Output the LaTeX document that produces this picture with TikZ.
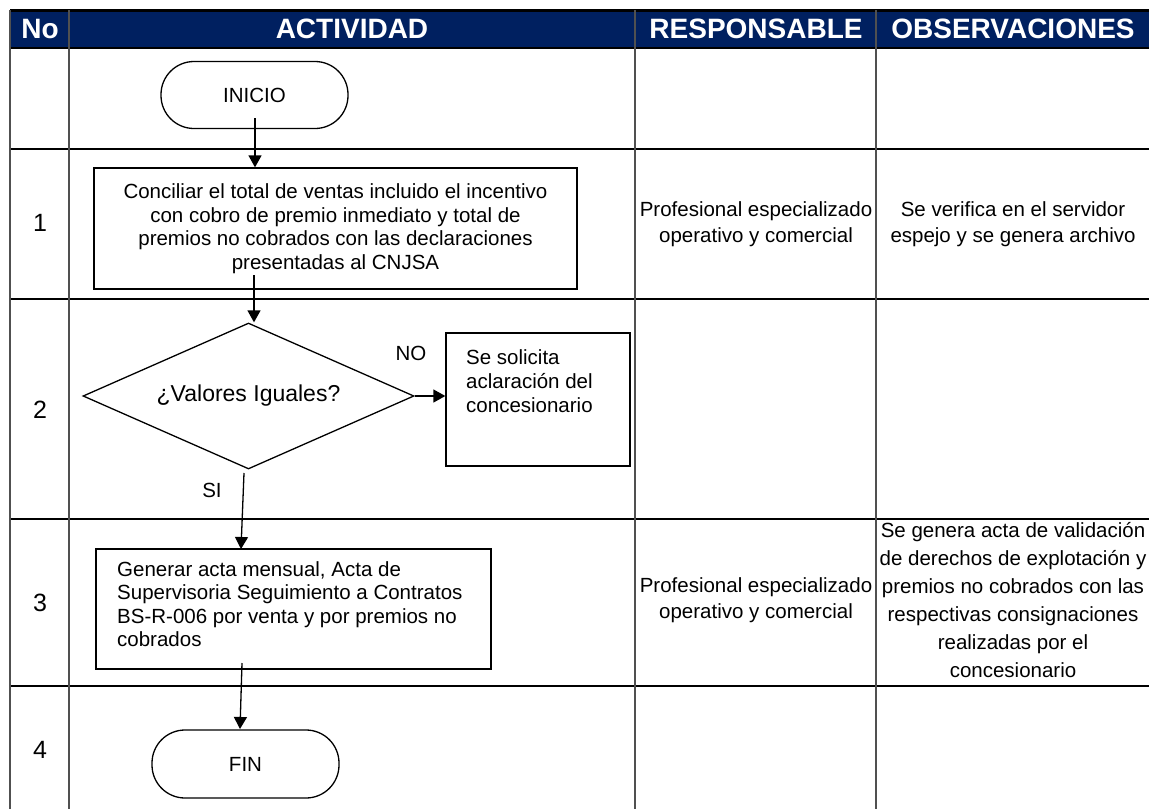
\documentclass[tikz,border=0pt]{standalone}
\usepackage{fontspec}
\setmainfont{Liberation Sans}
\usetikzlibrary{shapes.geometric,arrows.meta,calc}
\definecolor{navy}{HTML}{002060}
\definecolor{gridgray}{HTML}{505050}
\begin{document}
\begin{tikzpicture}[x=1pt,y=-1pt,
  hdr/.style={text=white,font=\fontsize{28}{32}\selectfont\bfseries},
  num/.style={font=\fontsize{25}{28}\selectfont},
  cell/.style={font=\fontsize{20.5}{26}\selectfont,align=center,inner sep=0pt},
  term/.style={draw,line width=1.3pt,rounded corners=33pt,minimum width=187pt,minimum height=67pt,font=\fontsize{20.5}{24}\selectfont},
  proc/.style={draw,line width=1.3pt,inner sep=0pt},
  boxtext/.style={font=\fontsize{20.5}{23.5}\selectfont,inner sep=0pt},
  lbl/.style={font=\fontsize{20.5}{24}\selectfont,inner sep=0pt},
  arr/.style={line width=1.3pt,-{Triangle[length=12pt,width=13pt]}},
  hline/.style={line width=2pt,black},
  vline/.style={line width=1.6pt,gridgray}]
\useasboundingbox (0,0) rectangle (1149,809);
\fill[white] (0,0) rectangle (1149,809);
% header band
\fill[navy] (10,10) rectangle (1149,48);
\draw[line width=3pt] (10,10) -- (1149,10);
\foreach \y in {48,149,299,519,686} \draw[hline] (10,\y) -- (1149,\y);
\foreach \x in {10,69,635,876} \draw[vline] (\x,10) -- (\x,809);
% header texts
\node[hdr] (h1) at (40,29) {No};
\node[hdr] (h2) at (352,29) {ACTIVIDAD};
\node[hdr] (h3) at (756,29) {RESPONSABLE};
\node[hdr] (h4) at (1013,29) {OBSERVACIONES};
% row numbers
\node[num] (n1) at (40,223) {1};
\node[num] (n2) at (40,410) {2};
\node[num] (n3) at (40,603) {3};
\node[num] (n4) at (40,750) {4};
% flowchart
\node[term] (ini) at (254.5,95) {INICIO};
\node[proc,minimum width=483pt,minimum height=121pt,boxtext,align=center] (b1) at (335.5,228.5)
  {Conciliar el total de ventas incluido el incentivo\\con cobro de premio inmediato y total de\\premios no cobrados con las declaraciones\\presentadas al CNJSA};
\node[draw,diamond,aspect=2.27,line width=1.3pt,minimum width=331pt,minimum height=146pt,inner sep=0pt,
  font=\fontsize{23}{27}\selectfont] (dia) at (248.5,396) {¿Valores Iguales?};
\node[proc,minimum width=184pt,minimum height=133pt] (sol) at (538,399.5) {};
\node[lbl,anchor=west,align=left] (soltxt) at (466,381)
  {Se solicita\\aclaración del\\concesionario};
\node[proc,minimum width=395pt,minimum height=120pt] (b3) at (293.5,609) {};
\node[boxtext,anchor=west,align=left] (b3txt) at (117,604)
  {Generar acta mensual, Acta de\\Supervisoria Seguimiento a Contratos\\BS-R-006 por venta y por premios no\\cobrados};
\node[term,minimum height=68pt] (fin) at (245.5,764) {FIN};
% connectors
\coordinate (a1) at (255,118);
\draw[arr] (a1) -- (a1 |- b1.north);
\coordinate (a2) at (254,275);
\draw[arr] (a2) -- (a2 |- dia.north);
\draw[arr] (dia.east) -- (dia.east -| sol.west);
\coordinate (s1) at (244,473);
\coordinate (s2) at (241,549);
\draw[arr] (s1) -- (s2);
\coordinate (f1) at (242,663);
\coordinate (f2) at (240,729);
\draw[arr] (f1) -- (f2);
\node[lbl] (no) at (411,353) {NO};
\node[lbl] (si) at (212,490) {SI};
% table texts
\node[cell] (r1) at (756,224) {Profesional especializado\\operativo y comercial};
\node[cell] (o1) at (1013,224) {Se verifica en el servidor\\espejo y se genera archivo};
\node[cell] (r3) at (756,600) {Profesional especializado\\operativo y comercial};
\node[cell,font=\fontsize{20.5}{28}\selectfont] (o3) at (1013,600)
  {Se genera acta de validación\\de derechos de explotación y\\premios no cobrados con las\\respectivas consignaciones\\realizadas por el\\concesionario};
\end{tikzpicture}
\end{document}
